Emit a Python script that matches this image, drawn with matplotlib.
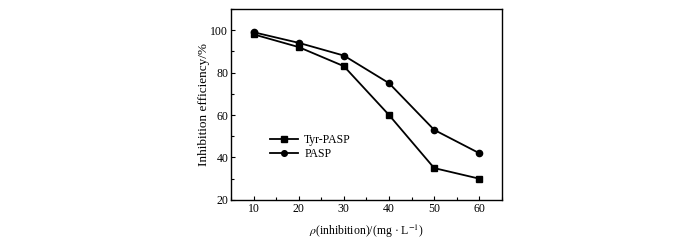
import matplotlib
matplotlib.use("Agg")
import matplotlib.pyplot as plt
from matplotlib.ticker import MultipleLocator

plt.rcParams["font.family"] = ["Liberation Serif", "DejaVu Serif"]
plt.rcParams["mathtext.fontset"] = "stix"

conc = [10, 20, 30, 40, 50, 60]
tyr_pasp = [98, 92, 83, 60, 35, 30]
pasp = [99, 94, 88, 75, 53, 42]

fig = plt.figure(figsize=(7, 2.4), dpi=100)
ax = fig.add_axes([0.33, 0.167, 0.387, 0.796])

ax.plot(conc, tyr_pasp, color="black", marker="s", markersize=4.5, lw=1.3,
        label="Tyr-PASP")
ax.plot(conc, pasp, color="black", marker="o", markersize=4.5, lw=1.3,
        label="PASP")

ax.set_xlim(5, 65)
ax.set_ylim(20, 110)
ax.set_xticks(conc)
ax.set_yticks([20, 40, 60, 80, 100])
ax.xaxis.set_minor_locator(MultipleLocator(5))
ax.yaxis.set_minor_locator(MultipleLocator(10))
ax.tick_params(which="both", direction="in", top=False, right=False,
               labelsize=8.5, pad=2)
ax.tick_params(which="major", length=3, width=0.8)
ax.tick_params(which="minor", length=2, width=0.8)
for s in ax.spines.values():
    s.set_linewidth(1.0)

ax.set_xlabel(r"$\rho$(inhibition)/(mg · L$^{-1}$)", fontsize=8.5, labelpad=6)
ax.set_ylabel("Inhibition efficiency/%", fontsize=9.5, labelpad=0)

ax.legend(loc="center left", bbox_to_anchor=(0.144, 0.277), frameon=False,
          fontsize=8.5, handlelength=2.4, handletextpad=0.5, labelspacing=0.15,
          borderaxespad=0, borderpad=0, markerscale=0.9)

fig.savefig("out.png", dpi=100)
